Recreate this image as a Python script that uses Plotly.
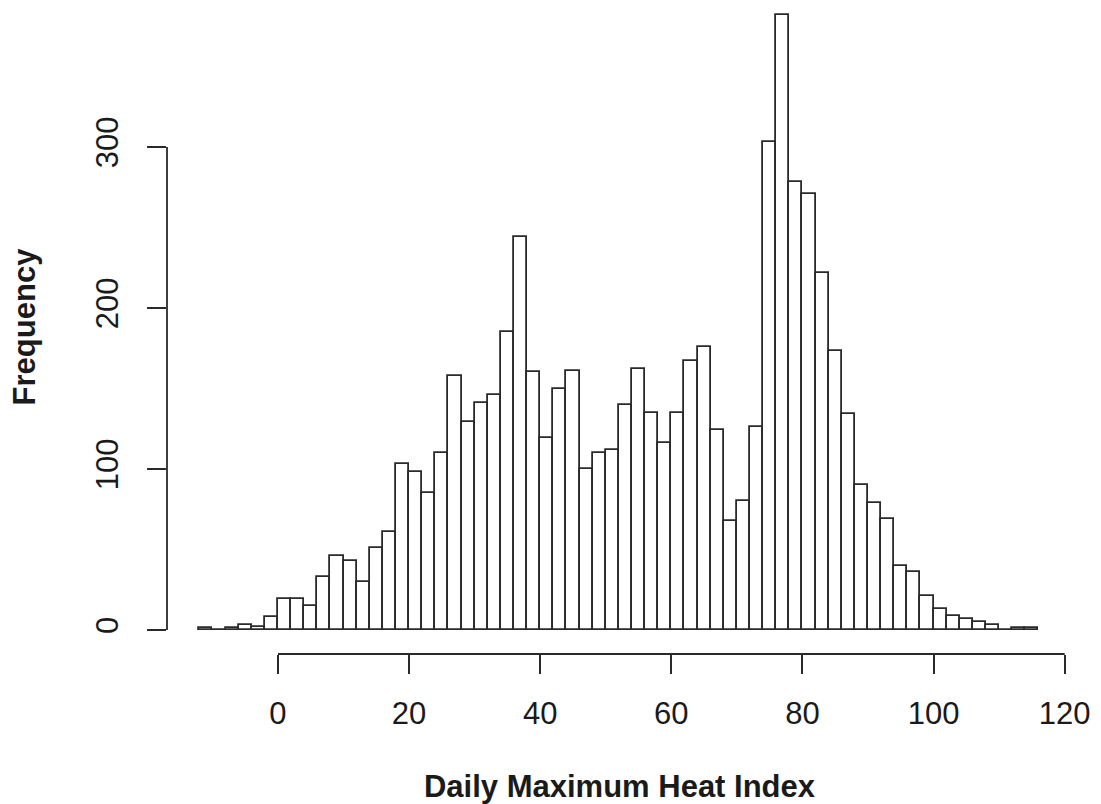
import plotly.graph_objects as go

# Histogram of daily maximum heat index, bins of width 2 from -12 to 116
bin_start = -12
bin_width = 2
counts = [1, 0, 1, 3, 2, 8, 19, 19, 15, 33,
          46, 43, 30, 51, 61, 103, 98, 85, 110, 158,
          129, 141, 146, 185, 244, 160, 119, 150, 161, 100,
          110, 112, 140, 162, 135, 116, 135, 167, 176, 124,
          68, 80, 126, 303, 382, 278, 271, 222, 173, 134,
          90, 79, 69, 40, 36, 21, 13, 9, 7, 5,
          3, 0, 1, 1]
bin_centers = [bin_start + bin_width * (i + 0.5) for i in range(len(counts))]

x_ticks = [0, 20, 40, 60, 80, 100, 120]
y_ticks = [0, 100, 200, 300]
x_title = "Daily Maximum Heat Index"
y_title = "Frequency"

line_col = "#2a2a2a"
font_family = "Liberation Sans, Arial, Helvetica, sans-serif"

fig = go.Figure()
fig.add_trace(go.Bar(
    x=bin_centers, y=counts, width=bin_width,
    marker=dict(color="white", line=dict(color=line_col, width=1.8)),
    hoverinfo="x+y", showlegend=False,
))

fig.update_layout(
    width=1101, height=804,
    margin=dict(l=167, r=29, t=0, b=150),
    paper_bgcolor="white", plot_bgcolor="white",
    font=dict(family=font_family, color="#1a1a1a", size=31),
    bargap=0,
    xaxis=dict(
        range=[-16.93, 121.12], showgrid=False, zeroline=False, showline=False,
        tickmode="array", tickvals=x_ticks, ticktext=[str(v) for v in x_ticks],
        ticks="outside", ticklen=19, tickwidth=1.8, tickcolor=line_col,
        tickfont=dict(size=31), ticklabelstandoff=13,
        title=dict(text="<b>" + x_title + "</b>", font=dict(size=31), standoff=48),
    ),
    yaxis=dict(
        range=[-14.9, 391.3], showgrid=False, zeroline=False, showline=False,
        tickmode="array", tickvals=y_ticks, ticktext=[str(v) for v in y_ticks],
        ticks="outside", ticklen=19, tickwidth=1.8, tickcolor=line_col,
        tickangle=-90, tickfont=dict(size=31), ticklabelstandoff=17,
        title=dict(text="<b>" + y_title + "</b>", font=dict(size=31), standoff=44),
    ),
    shapes=[
        dict(type="line", xref="x", yref="paper", x0=x_ticks[0], x1=x_ticks[-1], y0=0, y1=0,
             line=dict(color=line_col, width=1.8)),
        dict(type="line", xref="paper", yref="y", x0=0, x1=0, y0=y_ticks[0], y1=y_ticks[-1],
             line=dict(color=line_col, width=1.8)),
    ],
)

fig.write_html("out.html")
